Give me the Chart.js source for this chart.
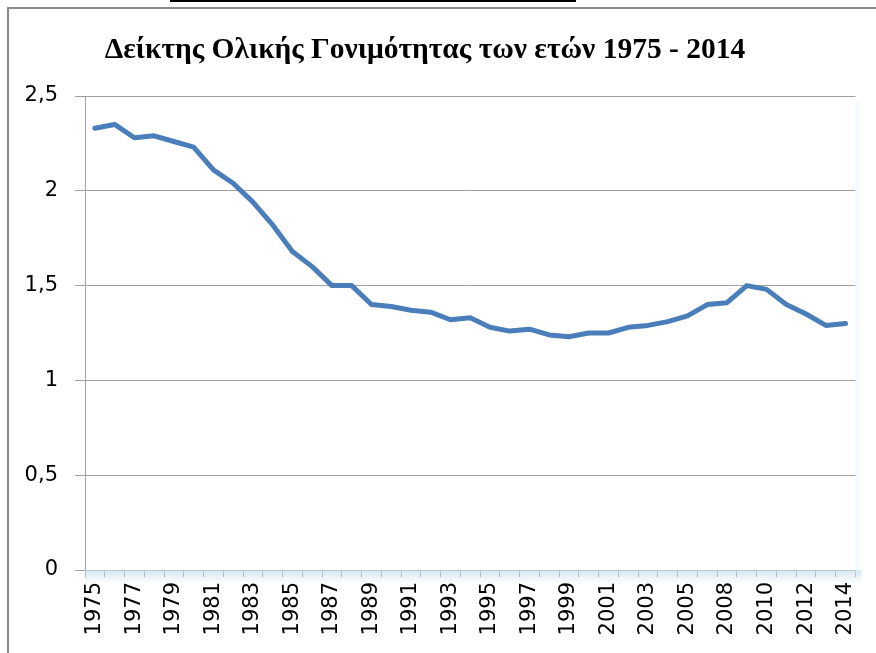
<!DOCTYPE html>
<html>
<head>
<meta charset="utf-8">
<script src="https://cdn.jsdelivr.net/npm/chart.js@4.4.1/dist/chart.umd.min.js"></script>
<style>
  html, body { margin: 0; padding: 0; background: #ffffff; overflow: hidden; }
  #wrap { position: relative; width: 876px; height: 653px; overflow: hidden; background: #fff; }
  #topline { position: absolute; left: 170px; top: 0px; width: 406px; height: 2px; background: #000; }
  #frameTop { position: absolute; left: 7px; top: 7px; width: 869px; height: 2px; background: #8a8a8a; }
  #frameLeft { position: absolute; left: 7px; top: 7px; width: 2px; height: 646px; background: #8a8a8a; }
  canvas { position: absolute; left: 0; top: 0; }
</style>
</head>
<body>
<div id="wrap">
  <div id="topline"></div>
  <div id="frameTop"></div>
  <div id="frameLeft"></div>
  <canvas id="c" width="876" height="653"></canvas>
</div>
<script>
const titleText = "Δείκτης Ολικής Γονιμότητας των ετών 1975 - 2014";
const years = ["1975","1976","1977","1978","1979","1980","1981","1982","1983","1984",
  "1985","1986","1987","1988","1989","1990","1991","1992","1993","1994",
  "1995","1996","1997","1998","1999","2000","2001","2002","2003","2004",
  "2005","2006","2008","2009","2010","2011","2012","2013","2014"];
const fertility = [2.33,2.35,2.28,2.29,2.26,2.23,2.11,2.04,1.94,1.82,
  1.68,1.60,1.50,1.50,1.40,1.39,1.37,1.36,1.32,1.33,
  1.28,1.26,1.27,1.24,1.23,1.25,1.25,1.28,1.29,1.31,
  1.34,1.40,1.41,1.50,1.48,1.40,1.35,1.29,1.30];
const yTicks = [0, 0.5, 1, 1.5, 2, 2.5];

const shadowPlugin = {
  id: 'shadow',
  beforeDatasetsDraw(chart) {
    const {ctx, chartArea: a} = chart;
    ctx.save();
    let g = ctx.createLinearGradient(0, a.bottom, 0, a.bottom + 14);
    g.addColorStop(0, 'rgba(195,222,236,0.7)');
    g.addColorStop(1, 'rgba(195,222,236,0)');
    ctx.fillStyle = g;
    ctx.fillRect(a.left, a.bottom, a.right - a.left + 6, 14);
    g = ctx.createLinearGradient(a.right, 0, a.right + 7, 0);
    g.addColorStop(0, 'rgba(215,235,245,0.35)');
    g.addColorStop(1, 'rgba(215,235,245,0)');
    ctx.fillStyle = g;
    ctx.fillRect(a.right, a.top + 6, 7, a.bottom - a.top);
    ctx.restore();
  }
};

const titlePlugin = {
  id: 'ttl',
  afterDraw(chart) {
    const ctx = chart.ctx;
    ctx.save();
    ctx.font = 'bold 29.5px "Liberation Serif", serif';
    ctx.fillStyle = '#000';
    ctx.textAlign = 'center';
    ctx.textBaseline = 'alphabetic';
    ctx.fillText(titleText, 425, 58);
    ctx.restore();
  }
};

new Chart(document.getElementById('c'), {
  type: 'line',
  data: {
    labels: years,
    datasets: [{
      data: fertility,
      borderColor: '#4a7ebb',
      borderWidth: 5,
      pointRadius: 0,
      tension: 0,
      fill: false,
      borderCapStyle: 'round',
      borderJoinStyle: 'round'
    }]
  },
  options: {
    responsive: false,
    animation: false,
    devicePixelRatio: 1,
    layout: { padding: { top: 96, right: 19, left: 0, bottom: 0 } },
    plugins: { legend: { display: false }, title: { display: false }, tooltip: { enabled: false } },
    scales: {
      x: {
        offset: true,
        grid: { offset: true, drawOnChartArea: false, color: '#a0a0a0', tickLength: 7, lineWidth: 1 },
        border: { color: '#a0a0a0', width: 1 },
        ticks: {
          autoSkip: false, maxRotation: 90, minRotation: 90, padding: 5,
          color: '#000', font: { family: '"DejaVu Sans", sans-serif', size: 21 },
          callback: function(v, i) { return i % 2 === 0 ? years[i] : ''; }
        },
        afterFit(s) { s.height = 653 - 570; }
      },
      y: {
        min: 0, max: 2.5,
        afterBuildTicks(s) { s.ticks = yTicks.map(v => ({ value: v })); },
        grid: { color: '#a0a0a0', tickLength: 10, lineWidth: 1 },
        border: { color: '#a0a0a0', width: 1 },
        ticks: {
          padding: 17, color: '#000', font: { family: '"DejaVu Sans", sans-serif', size: 21 },
          callback: v => String(v).replace('.', ',')
        },
        afterFit(s) { s.width = 85; }
      }
    }
  },
  plugins: [shadowPlugin, titlePlugin]
});
</script>
</body>
</html>
